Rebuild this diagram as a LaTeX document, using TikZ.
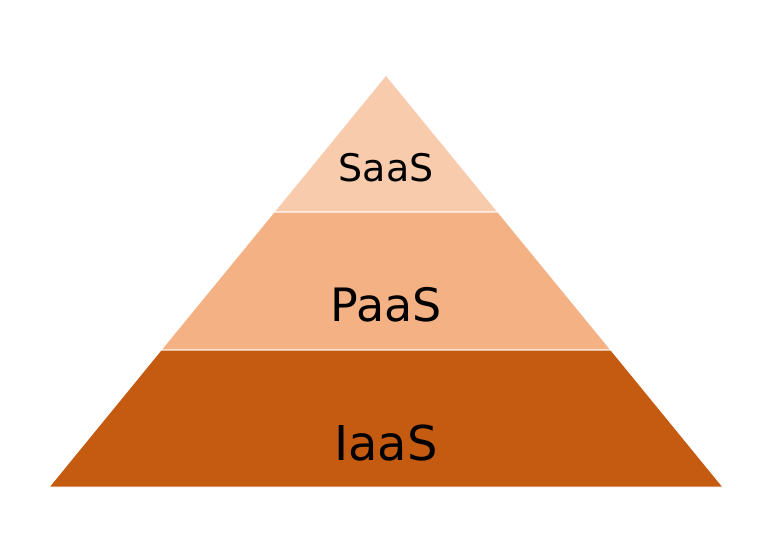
\documentclass[tikz,border=0pt]{standalone}
\usepackage{fontspec}
\setmainfont{DejaVu Sans}
\definecolor{saasfill}{HTML}{F8CBAD}
\definecolor{paasfill}{HTML}{F4B183}
\definecolor{iaasfill}{HTML}{C55A11}
\begin{document}
\begin{tikzpicture}[x=1pt, y=-1pt,
    layer/.style={draw=white, line width=1pt, line join=round},
    lbl/.style={anchor=base, inner sep=0pt}]
        \useasboundingbox (0,0) rectangle (768,534);
        \coordinate (apex) at (386,75);
        \coordinate (l1) at (274,212);
        \coordinate (r1) at (498,212);
        \coordinate (l2) at (161,350);
        \coordinate (r2) at (611,350);
        \coordinate (l3) at (49,487);
        \coordinate (r3) at (723,487);
        \path[layer, fill=iaasfill] (l2) -- (r2) -- (r3) -- (l3) -- cycle;
        \path[layer, fill=paasfill] (l1) -- (r1) -- (r2) -- (l2) -- cycle;
        \path[layer, fill=saasfill] (apex) -- (r1) -- (l1) -- cycle;
        \node[lbl, font=\fontsize{38}{40}\selectfont] (saas) at (386,182) {SaaS};
        \node[lbl, font=\fontsize{46}{48}\selectfont] (paas) at (386,322) {PaaS};
        \node[lbl, font=\fontsize{48}{50}\selectfont] (iaas) at (386,460) {IaaS};
      \end{tikzpicture}
\end{document}
